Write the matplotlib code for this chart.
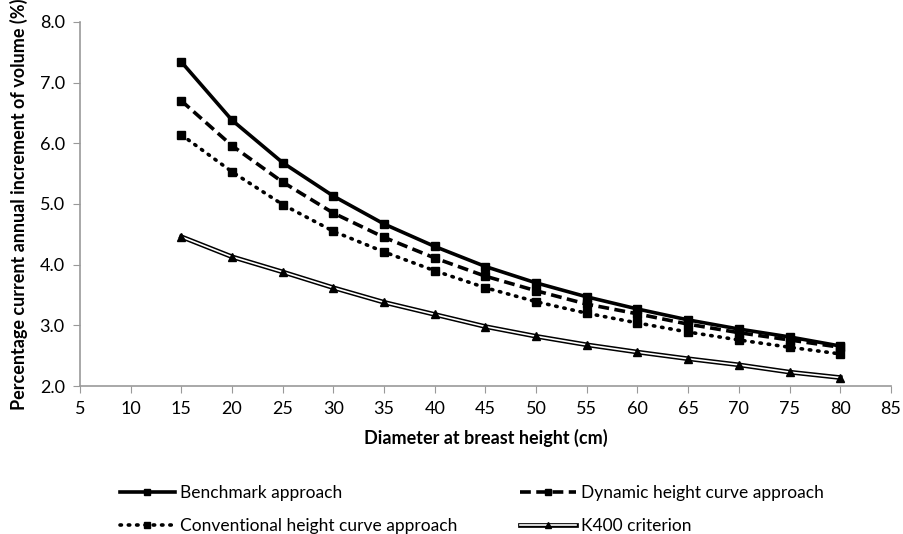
import matplotlib.pyplot as plt
from matplotlib.lines import Line2D

plt.rcParams['font.family'] = ['Lato', 'DejaVu Sans']

dbh = [15, 20, 25, 30, 35, 40, 45, 50, 55, 60, 65, 70, 75, 80]
benchmark = [7.34, 6.38, 5.68, 5.13, 4.67, 4.30, 3.97, 3.70, 3.47, 3.27, 3.09, 2.94, 2.81, 2.66]
dynamic = [6.70, 5.96, 5.36, 4.85, 4.45, 4.11, 3.81, 3.57, 3.35, 3.19, 3.02, 2.88, 2.76, 2.64]
conventional = [6.14, 5.53, 4.99, 4.55, 4.21, 3.90, 3.62, 3.39, 3.20, 3.04, 2.89, 2.76, 2.64, 2.53]
k400 = [4.46, 4.13, 3.88, 3.62, 3.38, 3.18, 2.98, 2.82, 2.68, 2.56, 2.45, 2.35, 2.23, 2.14]

dash = (0, (3, 1.5))
dots = (0, (0.4, 1.9))

fig = plt.figure(figsize=(9.04, 5.34), dpi=100)
ax = fig.add_axes([0.0885, 0.277, 0.897, 0.682])

ax.plot(dbh, benchmark, color='black', lw=2.6, marker='s', ms=6)
ax.plot(dbh, dynamic, color='black', lw=2.6, ls=dash, marker='s', ms=6)
ax.plot(dbh, conventional, color='black', lw=2.6, ls=dots, marker='s', ms=6,
        dash_capstyle='round')
# K400: double line (black outline with white core), triangle markers on top
ax.plot(dbh, k400, color='black', lw=3.4)
ax.plot(dbh, k400, color='white', lw=1.2)
ax.plot(dbh, k400, color='black', ls='none', marker='^', ms=5.5)

ax.set_xlim(5, 85)
ax.set_ylim(2, 8)
ax.set_xticks(range(5, 90, 5))
ax.set_yticks([2, 3, 4, 5, 6, 7, 8])
ax.set_yticklabels(['%.1f' % v for v in [2, 3, 4, 5, 6, 7, 8]])
for s in ['top', 'right']:
    ax.spines[s].set_visible(False)
for s in ['left', 'bottom']:
    ax.spines[s].set_color('#999999')
    ax.spines[s].set_linewidth(1.2)
ax.tick_params(direction='out', length=5, color='#999999', labelsize=13, pad=6)

ax.set_xlabel('Diameter at breast height (cm)', fontsize=13, fontweight='bold', labelpad=8)
ax.set_ylabel('Percentage current annual increment of volume (%)', fontsize=13,
              fontweight='bold', labelpad=8)

# legend handles
h1 = Line2D([], [], color='black', lw=2.6, marker='s', ms=4)
h2 = Line2D([], [], color='black', lw=2.6, ls=dash, marker='s', ms=4)
h3 = Line2D([], [], color='black', lw=2.6, ls=dots, marker='s', ms=4,
            dash_capstyle='round')
h4 = (Line2D([], [], color='black', lw=3.4),
      Line2D([], [], color='white', lw=1.2),
      Line2D([], [], color='black', ls='none', marker='^', ms=4))
fig.legend([h1, h3, h2, h4],
           ['Benchmark approach', 'Conventional height curve approach',
            'Dynamic height curve approach', 'K400 criterion'],
           ncol=2, loc='lower left', bbox_to_anchor=(0.115, -0.03), frameon=False,
           fontsize=12.5, handlelength=3.2, handletextpad=0.3, columnspacing=3.6,
           labelspacing=1.0)

fig.savefig('out.png', dpi=100)
